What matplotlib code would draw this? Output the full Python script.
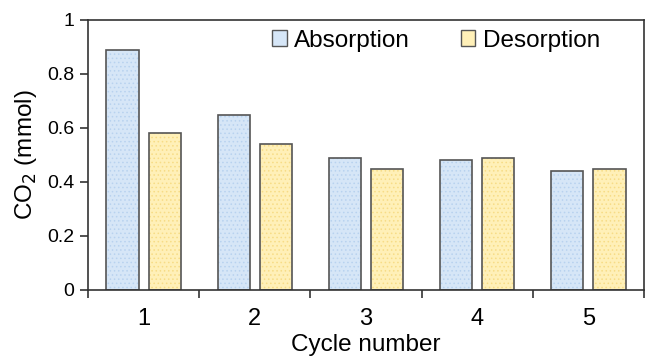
import matplotlib
matplotlib.use("Agg")
import matplotlib.pyplot as plt
import numpy as np
from matplotlib.patches import Patch

cycles = ["1", "2", "3", "4", "5"]
absorption = [0.89, 0.65, 0.49, 0.48, 0.44]
desorption = [0.58, 0.54, 0.45, 0.49, 0.45]
yticks = [0, 0.2, 0.4, 0.6, 0.8, 1]
ytick_labels = ["0", "0.2", "0.4", "0.6", "0.8", "1"]

plt.rcParams['font.family'] = ['Liberation Sans', 'DejaVu Sans']
plt.rcParams['hatch.linewidth'] = 0.6

W, H = 645, 361
fig = plt.figure(figsize=(W/100, H/100), dpi=100)
ax = fig.add_axes([88/W, (H-290)/H, (644-88)/W, (290-20)/H])

x = np.arange(len(cycles))
bw = 0.29
off = 0.19
abs_face, abs_hatch = "#d6e6f7", "#b8d2ef"
des_face, des_hatch = "#fff0b8", "#f7dc86"
edge = "#555555"

ax.bar(x - off, absorption, bw, color=abs_face, edgecolor=abs_hatch, hatch="....", linewidth=0)
ax.bar(x - off, absorption, bw, fill=False, edgecolor=edge, linewidth=1.2)
ax.bar(x + off, desorption, bw, color=des_face, edgecolor=des_hatch, hatch="....", linewidth=0)
ax.bar(x + off, desorption, bw, fill=False, edgecolor=edge, linewidth=1.2)

ax.set_xlim(-0.5, len(cycles) - 0.5)
ax.set_ylim(0, 1)
ax.set_yticks(yticks)
ax.set_yticklabels(ytick_labels)
ax.set_xticks(x)
ax.set_xticklabels(cycles)
ax.set_xticks(np.arange(len(cycles) + 1) - 0.5, minor=True)
ax.tick_params(axis='x', which='major', length=0, pad=13, labelsize=17)
ax.tick_params(axis='x', which='minor', length=6, width=1.2, direction='out', color='#333333')
ax.tick_params(axis='y', length=6, width=1.2, direction='out', labelsize=14, color='#333333', pad=4)
for s in ax.spines.values():
    s.set_linewidth(1.2)
    s.set_color('#333333')

ax.set_ylabel("CO$_2$ (mmol)", fontsize=17.5, labelpad=6)
ax.set_xlabel("Cycle number", fontsize=17.5, labelpad=3)

handles = [
    Patch(facecolor=abs_face, edgecolor=edge, linewidth=1.0, label="Absorption"),
    Patch(facecolor=des_face, edgecolor=edge, linewidth=1.0, label="Desorption"),
]
ax.legend(handles=handles, loc='upper right', bbox_to_anchor=(0.96, 1.045), ncol=2,
          frameon=False, fontsize=17.5, handlelength=0.6, handleheight=0.6,
          handletextpad=0.3, columnspacing=2.1)

fig.savefig("out.png", dpi=100)
